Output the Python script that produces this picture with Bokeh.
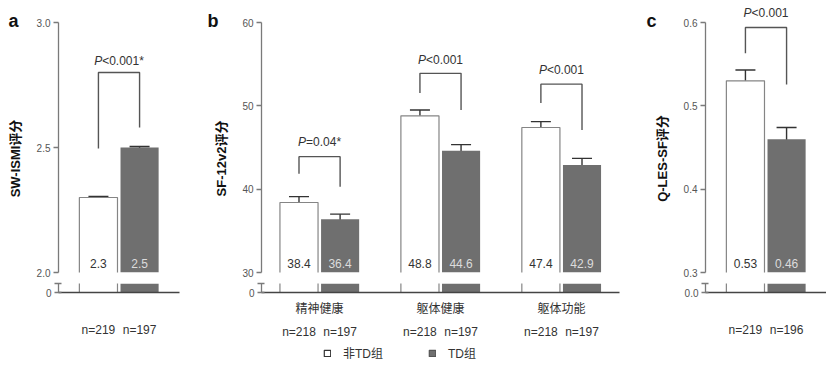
import math
from bokeh.plotting import figure
from bokeh.layouts import row, column
from bokeh.models import (Range1d, FixedTicker, LinearAxis, Whisker, TeeHead,
                          ColumnDataSource, Label, Legend, LegendItem)
from bokeh.core.properties import value
from bokeh.embed import file_html
from bokeh.resources import INLINE

# ------------------------------------------------------------------ data
GROUPS = ["非TD组", "TD组"]

A_MEANS = [2.3, 2.5]
A_ERR = [0.004, 0.004]
A_N = ["n=219", "n=197"]
A_P = ["<0.001*"]
A_YTICKS = [2.0, 2.5, 3.0]
A_YLABELS = ["2.0", "2.5", "3.0"]
A_ZERO = "0"
A_TITLE = "SW-ISMI评分"

B_CATS = ["精神健康", "躯体健康", "躯体功能"]
B_NONTD = [38.4, 48.8, 47.4]
B_NONTD_ERR = [0.7, 0.7, 0.7]
B_TD = [36.4, 44.6, 42.9]
B_TD_ERR = [0.6, 0.75, 0.8]
B_N_NONTD = ["n=218", "n=218", "n=218"]
B_N_TD = ["n=197", "n=197", "n=197"]
B_P = ["=0.04*", "<0.001", "<0.001"]
B_YTICKS = [30, 40, 50, 60]
B_YLABELS = ["30", "40", "50", "60"]
B_ZERO = "0"
B_TITLE = "SF-12v2评分"

C_MEANS = [0.53, 0.46]
C_ERR = [0.013, 0.014]
C_N = ["n=219", "n=196"]
C_P = ["<0.001"]
C_YTICKS = [0.3, 0.4, 0.5, 0.6]
C_YLABELS = ["0.3", "0.4", "0.5", "0.6"]
C_ZERO = "0.0"
C_TITLE = "Q-LES-SF评分"

# significance brackets: (top, left leg end, right leg end, p-text level)
A_BRACKETS = [(2.80, 2.496, 2.58, 2.848)]
B_BRACKETS = [(43.9, 41.85, 40.3, 45.7),
              (53.9, 51.55, 49.5, 55.45),
              (52.6, 50.35, 47.1, 54.35)]
C_BRACKETS = [(0.594, 0.563, 0.5255, 0.6115)]

# ------------------------------------------------------------------ style
FONT = "'Liberation Sans', 'Noto Sans CJK SC', sans-serif"
PPU = 121.0          # px per x unit
OFF = 0.17           # bar offset from group centre
BAR_W = 0.315
FRAME_H = 250        # px between lowest and highest y tick
FRAME_EXTRA = 22     # px of frame above the highest tick
TOP_B = 6
BOT_T = 5
BOT_FRAME = 9
BOT_B = 48
FOOT_H = 22
TOTAL_H = FRAME_H + FRAME_EXTRA + TOP_B + BOT_T + BOT_FRAME + BOT_B + FOOT_H
WHITE_LINE = "#858585"
GRAY = "#6f6f6f"
AXIS_C = "#7a7a7a"
BASE_C = "#444444"
ERR_C = "#333333"
BRK_C = "#555555"

CW = {'<': 0.584, '=': 0.584, '.': 0.278, '*': 0.389, 'P': 0.667}


def text_w(s, size):
    return sum(CW.get(ch, 0.556) for ch in s) * size


def clean(f):
    f.grid.visible = False
    f.outline_line_color = None
    f.background_fill_color = "white"
    f.border_fill_color = "white"


def style_yaxis(ax):
    ax.axis_line_color = AXIS_C
    ax.axis_line_width = 1.3
    ax.major_tick_line_color = AXIS_C
    ax.major_tick_line_width = 1.3
    ax.minor_tick_line_color = None
    ax.major_tick_out = 5
    ax.major_tick_in = 0
    ax.major_label_standoff = 3
    ax.major_label_text_font_size = "10px"
    ax.major_label_text_color = "#555555"
    ax.major_label_text_font = FONT


def style_xaxis(ax, standoff, line=True):
    ax.axis_line_color = BASE_C if line else None
    ax.axis_line_width = 1.4
    ax.major_tick_line_color = None
    ax.minor_tick_line_color = None
    ax.major_tick_out = 0
    ax.major_tick_in = 0
    ax.major_label_standoff = standoff
    ax.major_label_text_font_size = "12px"
    ax.major_label_text_color = "#333333"
    ax.major_label_text_font = FONT


def make_gutter(width, letter, letter_x, title, title_x):
    g = figure(x_range=Range1d(0, width), y_range=Range1d(TOTAL_H, 0),
               width=width, height=TOTAL_H, min_border=0,
               x_axis_location=None, y_axis_location=None,
               toolbar_location=None, output_backend="svg", title=None)
    clean(g)
    g.add_layout(Label(x=letter_x, y=20.5, text=letter, text_align="left",
                       text_baseline="alphabetic", text_font=FONT, text_font_size="18px",
                       text_font_style="bold", text_color="#111111"))
    g.add_layout(Label(x=title_x, y=158, text=title, angle=math.pi / 2,
                       text_align="center", text_baseline="middle", text_font=FONT,
                       text_font_size="13px", text_font_style="bold",
                       text_color="#111111"))
    return g


def make_footer(width, legend_x):
    f = figure(x_range=Range1d(0, 1), y_range=Range1d(0, 1), width=width,
               height=FOOT_H, min_border=0, x_axis_location=None,
               y_axis_location=None, toolbar_location=None,
               output_backend="svg", title=None)
    clean(f)
    # legend swatch renderers (hidden; only their legend glyphs are shown)
    r1 = f.vbar(x=[0], top=[0], width=0.1, fill_color="white",
                line_color="#333333", line_width=1.2, visible=False)
    r2 = f.vbar(x=[0], top=[0], width=0.1, fill_color=GRAY,
                line_color="#555555", line_width=1.2, visible=False)
    lg = Legend(items=[LegendItem(label=GROUPS[0], renderers=[r1]),
                       LegendItem(label=GROUPS[1], renderers=[r2])],
                location=(legend_x, 2), orientation="horizontal",
                glyph_width=8, glyph_height=8, label_standoff=12, spacing=45,
                padding=0, margin=0, border_line_color=None,
                background_fill_alpha=0, inactive_fill_alpha=0,
                label_text_font_size="12px",
                label_text_font=FONT, label_text_color="#333333", label_height=14)
    f.add_layout(lg)
    return f


def make_panel(centers, means, errs, nlabels, brackets, ptexts,
               yticks, ylabels, zero_label, low_top, fmt, xlo, xhi, bl, br,
               cats=None, legend_x=None):
    fw = int(round((xhi - xlo) * PPU))
    xr = Range1d(xlo, xhi)
    ylo, yhi = yticks[0], yticks[-1]
    yspan = yhi - ylo

    top = figure(x_range=xr, y_range=Range1d(ylo, yhi + FRAME_EXTRA / FRAME_H * yspan),
                 frame_width=fw, frame_height=FRAME_H + FRAME_EXTRA,
                 min_border_left=bl, min_border_right=br,
                 min_border_top=0, min_border_bottom=TOP_B, x_axis_location=None,
                 toolbar_location=None, output_backend="svg", title=None)
    bot = figure(x_range=xr, y_range=Range1d(0, low_top), frame_width=fw,
                 frame_height=BOT_FRAME, min_border_left=bl, min_border_right=br,
                 min_border_top=BOT_T, min_border_bottom=BOT_B,
                 toolbar_location=None, output_backend="svg", title=None)
    clean(top)
    clean(bot)

    ya = top.yaxis[0]
    ya.ticker = FixedTicker(ticks=yticks)
    ya.major_label_overrides = dict(zip(yticks, ylabels))
    ya.bounds = (ylo, yhi)
    style_yaxis(ya)

    yb = bot.yaxis[0]
    yb.ticker = FixedTicker(ticks=[0, low_top])
    yb.major_label_overrides = {0: zero_label, low_top: ""}
    style_yaxis(yb)
    yb.major_tick_out = 4
    yb.major_tick_in = 3

    specs = [
        (means[0], errs[0], -OFF, "white", True, "#333333"),
        (means[1], errs[1], OFF, GRAY, False, "#dcdcdc"),
    ]
    for m, e, off, fill, outline, tcol in specs:
        xs = [c + off for c in centers]
        src = ColumnDataSource(dict(
            x=xs, top=m,
            up=[v + d for v, d in zip(m, e)], lo=[v - d for v, d in zip(m, e)],
            label=[fmt.format(v) for v in m],
            ox=[[x - BAR_W / 2, x - BAR_W / 2, x + BAR_W / 2, x + BAR_W / 2] for x in xs],
            oy=[[0, v, v, 0] for v in m]))
        for f in (top, bot):
            f.vbar(x="x", top="top", bottom=0, width=BAR_W, source=src,
                   fill_color=fill, line_color=None)
            if outline:
                f.multi_line(xs="ox", ys="oy", source=src, line_color=WHITE_LINE,
                             line_width=1.2)
        top.add_layout(Whisker(base="x", upper="up", lower="lo", source=src,
                               line_color=ERR_C, line_width=1.4,
                               upper_head=TeeHead(size=20, line_color=ERR_C, line_width=1.4),
                               lower_head=TeeHead(size=20, line_color=ERR_C, line_width=1.4)))
        top.text(x="x", y=ylo + 9 / FRAME_H * yspan, text="label", source=src,
                 text_align="center", text_baseline="middle",
                 text_font=value(FONT), text_font_size="12px", text_color=tcol)

    for i, (ytop, yl, yr, yp) in enumerate(brackets):
        x1, x2 = centers[i] - OFF, centers[i] + OFF
        top.line(x=[x1, x1, x2, x2], y=[yl, ytop, ytop, yr],
                 line_color=BRK_C, line_width=1.4)
        rest = ptexts[i]
        total = text_w("P" + rest, 12)
        shift = -total / 2 + text_w("P", 12)
        xc = (x1 + x2) / 2
        top.add_layout(Label(x=xc, y=yp, x_offset=shift, text="P", text_align="right",
                             text_baseline="middle", text_font=FONT, text_font_size="12px",
                             text_font_style="italic", text_color="#333333"))
        top.add_layout(Label(x=xc, y=yp, x_offset=shift, text=rest, text_align="left",
                             text_baseline="middle", text_font=FONT, text_font_size="12px",
                             text_color="#333333"))

    xa = bot.xaxis[0]
    bar_x = [c - OFF for c in centers] + [c + OFF for c in centers]
    bar_n = list(nlabels[0]) + list(nlabels[1])
    if cats is None:
        xa.ticker = FixedTicker(ticks=bar_x)
        xa.major_label_overrides = dict(zip(bar_x, bar_n))
        style_xaxis(xa, 30)
    else:
        xa.ticker = FixedTicker(ticks=list(centers))
        xa.major_label_overrides = dict(zip(centers, cats))
        style_xaxis(xa, 9)
        xn = LinearAxis(ticker=FixedTicker(ticks=bar_x),
                        major_label_overrides=dict(zip(bar_x, bar_n)))
        style_xaxis(xn, 6, line=False)
        bot.add_layout(xn, "below")

    kids = [top, bot]
    if legend_x is not None:
        kids.append(make_footer(bl + fw + br, legend_x))
    return column(*kids, spacing=0)


ga = make_gutter(30, "a", 8, A_TITLE, 15)
pa = make_panel([0], [A_MEANS[:1], A_MEANS[1:]], [A_ERR[:1], A_ERR[1:]],
                [A_N[:1], A_N[1:]], A_BRACKETS, A_P, A_YTICKS, A_YLABELS, A_ZERO,
                0.1, "{:.1f}", -0.5, 0.5, 28, 10)
gb = make_gutter(42, "b", 18, B_TITLE, 32)
pb = make_panel([0, 1, 2], [B_NONTD, B_TD], [B_NONTD_ERR, B_TD_ERR],
                [B_N_NONTD, B_N_TD], B_BRACKETS, B_P, B_YTICKS, B_YLABELS, B_ZERO,
                2.0, "{:.1f}", -0.48, 2.48, 30, 10, cats=B_CATS, legend_x=62)
gc = make_gutter(42, "c", 17, C_TITLE, 33)
pc = make_panel([0], [C_MEANS[:1], C_MEANS[1:]], [C_ERR[:1], C_ERR[1:]],
                [C_N[:1], C_N[1:]], C_BRACKETS, C_P, C_YTICKS, C_YLABELS, C_ZERO,
                0.02, "{:.2f}", -0.5, 0.5, 34, 0)

layout = row(ga, pa, gb, pb, gc, pc, spacing=0)
open("out.html", "w").write(file_html(layout, INLINE))
